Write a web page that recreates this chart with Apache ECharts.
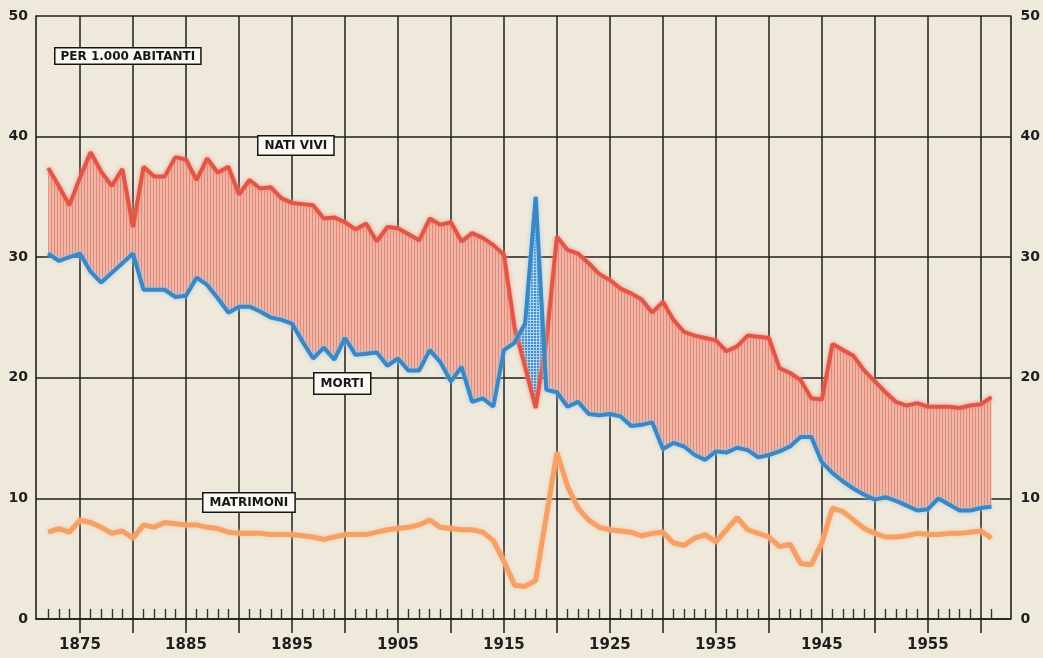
<!DOCTYPE html>
<html>
<head>
<meta charset="utf-8">
<script src="https://cdn.jsdelivr.net/npm/echarts@6/dist/echarts.min.js"></script>
<style>
  html, body { margin: 0; padding: 0; background: #efe9dc; }
  #chart { width: 1043px; height: 658px; }
</style>
</head>
<body>
<div id="chart"></div>
<script>
// anni 1872 - 1961, valori per 1.000 abitanti
const FIRST_YEAR = 1872
const LAST_YEAR = 1961

const NATI_VIVI = [
  37.4, 35.9, 34.3, 36.6, 38.7, 37.1, 35.9, 37.3,
  32.5, 37.5, 36.7, 36.7, 38.3, 38.1, 36.4, 38.2, 37.0, 37.5,
  35.2, 36.4, 35.7, 35.8, 34.9, 34.5, 34.4, 34.3, 33.2, 33.3,
  32.9, 32.3, 32.8, 31.3, 32.5, 32.4, 31.9, 31.4, 33.2, 32.7,
  32.9, 31.3, 32.0, 31.6, 31.0, 30.2, 24.2, 20.9, 17.5, 23.0,
  31.7, 30.6, 30.3, 29.5, 28.6, 28.1, 27.4, 27.0, 26.5, 25.4,
  26.3, 24.8, 23.8, 23.5, 23.3, 23.1, 22.2, 22.6, 23.5, 23.4,
  23.3, 20.8, 20.4, 19.8, 18.3, 18.2, 22.8, 22.3, 21.8, 20.6,
  19.7, 18.8, 18.0, 17.7, 17.9, 17.6, 17.6, 17.6, 17.5, 17.7,
  17.8, 18.4
]

const MORTI = [
  30.3, 29.7, 30.0, 30.3, 28.8, 27.9, 28.7, 29.5,
  30.3, 27.3, 27.3, 27.3, 26.7, 26.8, 28.3, 27.7, 26.6, 25.4,
  25.9, 25.9, 25.5, 25.0, 24.8, 24.5, 23.0, 21.6, 22.5, 21.5,
  23.3, 21.9, 22.0, 22.1, 21.0, 21.6, 20.6, 20.6, 22.3, 21.3,
  19.7, 20.9, 18.0, 18.3, 17.6, 22.3, 22.9, 24.5, 35.0, 19.0,
  18.8, 17.6, 18.0, 17.0, 16.9, 17.0, 16.8, 16.0, 16.1, 16.3,
  14.1, 14.6, 14.3, 13.6, 13.2, 13.9, 13.8, 14.2, 14.0, 13.4,
  13.6, 13.9, 14.3, 15.1, 15.1, 13.0, 12.1, 11.4, 10.8, 10.3,
  9.9, 10.1, 9.8, 9.4, 9.0, 9.1, 10.0, 9.5, 9.0, 9.0,
  9.2, 9.3
]

const MATRIMONI = [
  7.2, 7.5, 7.2, 8.2, 8.0, 7.6, 7.1, 7.3,
  6.7, 7.8, 7.6, 8.0, 7.9, 7.8, 7.8, 7.6, 7.5, 7.2,
  7.1, 7.1, 7.1, 7.0, 7.0, 7.0, 6.9, 6.8, 6.6, 6.8,
  7.0, 7.0, 7.0, 7.2, 7.4, 7.5, 7.6, 7.8, 8.2, 7.6,
  7.5, 7.4, 7.4, 7.2, 6.5, 4.8, 2.8, 2.7, 3.2, 8.5,
  13.8, 11.0, 9.2, 8.2, 7.6, 7.4, 7.3, 7.2, 6.9, 7.1,
  7.2, 6.3, 6.1, 6.7, 7.0, 6.4, 7.4, 8.4, 7.4, 7.1,
  6.8, 6.0, 6.2, 4.6, 4.5, 6.3, 9.2, 8.9, 8.2, 7.5,
  7.1, 6.8, 6.8, 6.9, 7.1, 7.0, 7.0, 7.1, 7.1, 7.2,
  7.3, 6.7
]

const LABEL_YEARS = [1875, 1885, 1895, 1905, 1915, 1925, 1935, 1945, 1955]
const GRID_YEARS = [1875, 1880, 1885, 1890, 1895, 1900, 1905, 1910, 1915,
  1920, 1925, 1930, 1935, 1940, 1945, 1950, 1955, 1960]
const X_MIN = 1870.85
const X_MAX = 1962.8

const YEARS = []
for (let y = FIRST_YEAR; y <= LAST_YEAR; y++) YEARS.push(y)
const MINOR_YEARS = YEARS.filter(y => y % 5 !== 0)

// zone tra nati e morti, spezzate dove le due curve si incrociano
const buildRegions = () => {
  const regions = []
  let cur = null
  YEARS.forEach((x, i) => {
    const diff = NATI_VIVI[i] - MORTI[i]
    const s = diff >= 0 ? 1 : -1
    if (!cur) {
      cur = { sign: s, top: [[x, NATI_VIVI[i]]], bot: [[x, MORTI[i]]] }
      return
    }
    if (s !== cur.sign) {
      const d0 = NATI_VIVI[i - 1] - MORTI[i - 1]
      const t = d0 / (d0 - diff)
      const xc = YEARS[i - 1] + t * (x - YEARS[i - 1])
      const yc = NATI_VIVI[i - 1] + t * (NATI_VIVI[i] - NATI_VIVI[i - 1])
      cur.top.push([xc, yc]); cur.bot.push([xc, yc])
      regions.push(cur)
      cur = { sign: s, top: [[xc, yc]], bot: [[xc, yc]] }
    }
    cur.top.push([x, NATI_VIVI[i]])
    cur.bot.push([x, MORTI[i]])
  })
  regions.push(cur)
  return regions
}
const REGIONS = buildRegions()

const makePattern = (w, h, draw) => {
  const c = document.createElement('canvas')
  c.width = w; c.height = h
  draw(c.getContext('2d'))
  return { image: c, repeat: 'repeat' }
}
// righe verticali sopra il fondo pieno
const pinkHatch = makePattern(3, 4, g => {
  g.clearRect(0, 0, 3, 4)
  g.fillStyle = 'rgba(222,122,110,0.75)'; g.fillRect(0, 0, 1, 4)
})
const blueHatch = makePattern(3, 3, g => {
  g.clearRect(0, 0, 3, 3)
  g.fillStyle = 'rgba(190,222,245,0.85)'; g.fillRect(2, 0, 1, 3); g.fillRect(0, 2, 3, 1)
})

const pairs = arr => YEARS.map((y, i) => [y, arr[i]])
const ink = '#1e1e1e'
const labelFont = { color: ink, fontWeight: 'bold', fontFamily: 'DejaVu Sans' }

const boxLabel = (text, left, top, padding) => ({
  type: 'text', left, top, z: 20,
  style: {
    text, fill: '#161616', font: 'bold 12px "DejaVu Sans"',
    backgroundColor: '#fbf9f3', borderColor: '#161616', borderWidth: 1.5,
    padding
  }
})

const chart = echarts.init(document.getElementById('chart'))

const option = {
  animation: false,
  backgroundColor: '#efe9dc',
  grid: { left: 36, right: 30, top: 16, bottom: 39 },
  xAxis: [
    {
      type: 'value', min: X_MIN, max: X_MAX, position: 'bottom',
      axisLine: { show: true, onZero: false, lineStyle: { color: ink, width: 1.6 } },
      axisTick: { show: true, inside: true, length: 10, customValues: MINOR_YEARS,
        lineStyle: { color: '#333', width: 1.4 } },
      axisLabel: { customValues: LABEL_YEARS, margin: 19, fontSize: 15, formatter: v => String(v), ...labelFont },
      splitLine: { show: false }
    },
    {
      type: 'value', min: X_MIN, max: X_MAX, position: 'bottom',
      axisLine: { show: false },
      axisTick: { show: true, inside: false, length: 14, customValues: GRID_YEARS,
        lineStyle: { color: ink, width: 1.5 } },
      axisLabel: { show: false },
      splitLine: { show: false }
    }
  ],
  yAxis: [
    {
      type: 'value', min: 0, max: 50, interval: 10, position: 'left',
      axisLine: { show: true, lineStyle: { color: ink, width: 1.6 } },
      axisTick: { show: false },
      axisLabel: { margin: 8, fontSize: 14, ...labelFont },
      splitLine: { show: true, lineStyle: { color: ink, width: 1.5 } }
    },
    {
      type: 'value', min: 0, max: 50, interval: 10, position: 'right',
      axisLine: { show: true, lineStyle: { color: ink, width: 1.6 } },
      axisTick: { show: false },
      axisLabel: { margin: 10, fontSize: 14, ...labelFont },
      splitLine: { show: false }
    }
  ],
  series: [
    {
      // porta solo le linee verticali della griglia
      type: 'line', z: 1, silent: true, data: pairs(MORTI),
      showSymbol: false, lineStyle: { opacity: 0 },
      markLine: {
        z: 1, silent: true, symbol: ['none', 'none'], label: { show: false },
        lineStyle: { color: ink, width: 1.5, type: 'solid' },
        data: GRID_YEARS.map(y => ({ xAxis: y }))
      }
    },
    {
      type: 'custom', z: 3, silent: true,
      data: REGIONS.map((r, k) => [FIRST_YEAR, k]),
      renderItem: (params, api) => {
        const r = REGIONS[params.dataIndex]
        const pts = r.top.concat(r.bot.slice().reverse()).map(p => api.coord(p))
        const pos = r.sign > 0
        return {
          type: 'group',
          children: [
            { type: 'polygon', shape: { points: pts },
              style: { fill: pos ? '#f0b8a7' : '#3f8dcc' } },
            { type: 'polygon', shape: { points: pts },
              style: { fill: pos ? pinkHatch : blueHatch } }
          ]
        }
      }
    },
    {
      name: 'NATI VIVI', type: 'line', z: 5, silent: true, showSymbol: false,
      data: pairs(NATI_VIVI),
      lineStyle: { color: '#e15646', width: 4, shadowColor: 'rgba(242,140,122,0.9)', shadowBlur: 4 }
    },
    {
      name: 'MORTI', type: 'line', z: 6, silent: true, showSymbol: false,
      data: pairs(MORTI),
      lineStyle: { color: '#3a87c4', width: 4, shadowColor: 'rgba(140,200,240,0.9)', shadowBlur: 4 }
    },
    {
      name: 'MATRIMONI', type: 'line', z: 6, silent: true, showSymbol: false,
      data: pairs(MATRIMONI),
      lineStyle: { color: '#f4a066', width: 5, shadowColor: 'rgba(250,196,150,0.9)', shadowBlur: 4 }
    }
  ],
  graphic: [
    boxLabel('PER 1.000 ABITANTI', 54, 47, [2, 5, 1, 5]),
    boxLabel('NATI VIVI', 257, 135, [3, 6, 3, 6]),
    boxLabel('MORTI', 313, 372, [4, 6, 4, 6]),
    boxLabel('MATRIMONI', 202, 492, [3, 6, 3, 6])
  ]
}

chart.setOption(option)
window.addEventListener('resize', () => chart.resize())
</script>
</body>
</html>
